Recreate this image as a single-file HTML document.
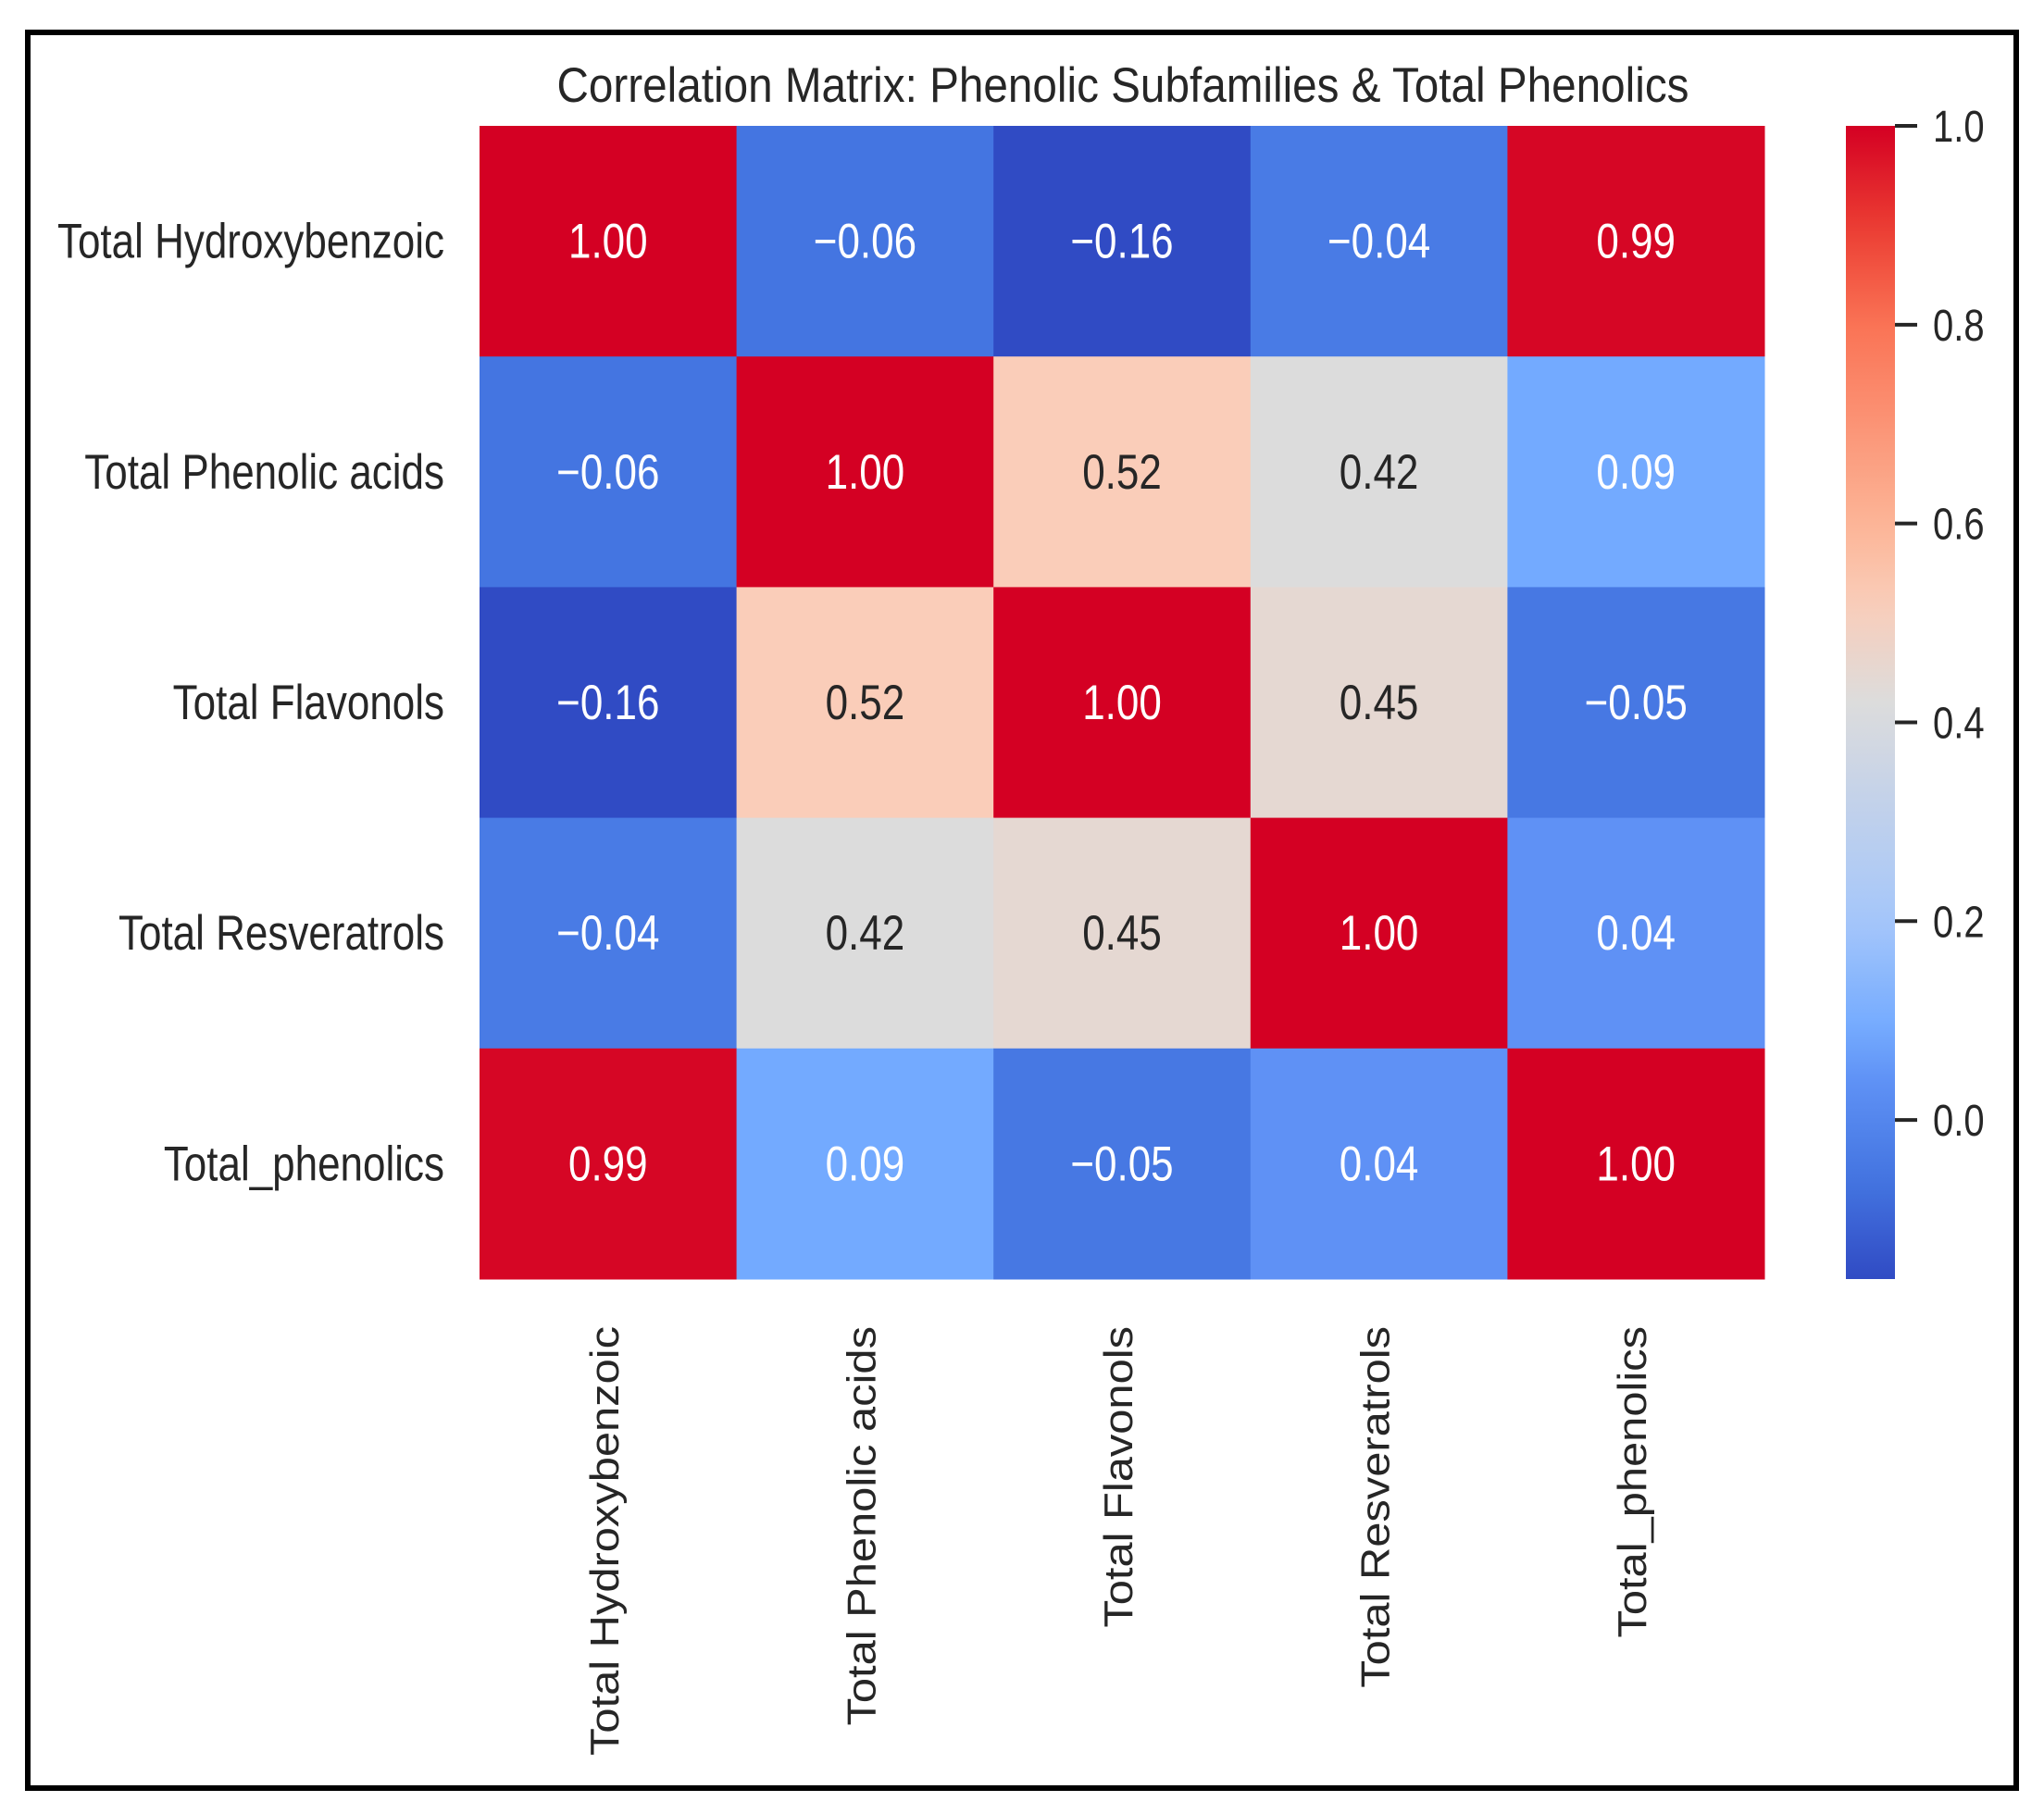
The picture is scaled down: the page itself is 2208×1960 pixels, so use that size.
<!DOCTYPE html>
<html><head><meta charset="utf-8"><title>Correlation Matrix</title>
<style>
html,body{margin:0;padding:0;background:#fff;}
svg{display:block;}
text{font-family:"Liberation Sans",Arial,sans-serif;}
</style></head>
<body>
<svg id="chart" width="2208" height="1960" viewBox="0 0 2208 1960" xmlns="http://www.w3.org/2000/svg">
  <defs>
    <linearGradient id="cbgrad" x1="0" y1="1" x2="0" y2="0"></linearGradient>
  </defs>
  <rect x="0" y="0" width="2208" height="1960" fill="#fff"/>
  <rect x="30" y="35" width="2148" height="1897" fill="none" stroke="#000" stroke-width="6"/>
  <text x="1213" y="110" text-anchor="middle" font-size="44" fill="#262626" textLength="1223" lengthAdjust="spacingAndGlyphs" transform="translate(0,-22) scale(1,1.2)">Correlation Matrix: Phenolic Subfamilies &amp; Total Phenolics</text>
  <g id="cells"></g>
  <g id="ylabels"></g>
  <g id="xlabels"></g>
  <g id="colorbar"></g>
</svg>
<script>
const categories = ["Total Hydroxybenzoic","Total Phenolic acids","Total Flavonols","Total Resveratrols","Total_phenolics"];
const row0 = [1.00, -0.06, -0.16, -0.04, 0.99];
const row1 = [-0.06, 1.00, 0.52, 0.42, 0.09];
const row2 = [-0.16, 0.52, 1.00, 0.45, -0.05];
const row3 = [-0.04, 0.42, 0.45, 1.00, 0.04];
const row4 = [0.99, 0.09, -0.05, 0.04, 1.00];
const matrix = [row0, row1, row2, row3, row4];
const cbTicks = [0.0, 0.2, 0.4, 0.6, 0.8, 1.0];
const cbTickLabels = ["0.0","0.2","0.4","0.6","0.8","1.0"];
const vmin = -0.16, vmax = 1.0;

const NS = "http://www.w3.org/2000/svg";
const HX0 = 518, HX1 = 1906, HY0 = 136, HY1 = 1382;
const cw = (HX1 - HX0) / categories.length, ch = (HY1 - HY0) / categories.length;
function xScale(i){ return HX0 + i * cw; }
function yScale(i){ return HY0 + i * ch; }
const CBX = 1994, CBW = 53;
function cbY(v){ return HY0 + (vmax - v) / (vmax - vmin) * (HY1 - HY0); }

const cmapV = [-0.16,-0.06,0.04,0.09,0.2,0.42,0.52,0.6,0.8,0.9,1.0];
const cmapC = [[48,75,196],[68,117,225],[95,145,245],[115,170,255],[165,198,250],[220,220,220],[250,205,185],[252,180,150],[250,115,85],[235,60,50],[212,0,35]];
function color(v){
  if (v <= cmapV[0]) return cmapC[0];
  for (let i=1;i<cmapV.length;i++){
    if (v <= cmapV[i]){
      const t=(v-cmapV[i-1])/(cmapV[i]-cmapV[i-1]);
      return cmapC[i-1].map((c,k)=>Math.round(c+(cmapC[i][k]-c)*t));
    }
  }
  return cmapC[cmapC.length-1];
}
function rgb(c){ return "rgb("+c.join(",")+")"; }
function lum(c){ const f=x=>{x/=255;return x<=0.03928?x/12.92:Math.pow((x+0.055)/1.055,2.4);}; return 0.2126*f(c[0])+0.7152*f(c[1])+0.0722*f(c[2]); }
function fmt(v){ const s=Math.abs(v).toFixed(2); return (v<0?"\u2212":"")+s; }

const cells = document.getElementById("cells");
matrix.forEach((row, r) => {
  row.forEach((v, c) => {
    const col = color(v);
    const rect = document.createElementNS(NS,"rect");
    rect.setAttribute("x", xScale(c)); rect.setAttribute("y", yScale(r));
    rect.setAttribute("width", cw + 0.5); rect.setAttribute("height", ch + 0.5);
    rect.setAttribute("fill", rgb(col));
    
    
    cells.appendChild(rect);
    const t = document.createElementNS(NS,"text");
    const cx = xScale(c) + cw/2, cy = yScale(r) + ch/2 + 18;
    t.setAttribute("text-anchor","middle");
    t.setAttribute("font-size","44");
    t.setAttribute("fill", lum(col) > 0.408 ? "#262626" : "#ffffff");
    t.setAttribute("transform","translate("+cx+","+cy+") scale(1,1.2)");
    t.textContent = fmt(v);
    
    
    cells.appendChild(t);
  });
});

const yl = document.getElementById("ylabels");
categories.forEach((name, i) => {
  const t = document.createElementNS(NS,"text");
  t.setAttribute("text-anchor","end");
  t.setAttribute("font-size","44");
  t.setAttribute("fill","#262626");
  t.setAttribute("transform","translate(480,"+(yScale(i)+ch/2+18)+") scale(1,1.2)");
  t.textContent = name;
  
  
  yl.appendChild(t);
});

const xl = document.getElementById("xlabels");
categories.forEach((name, i) => {
  const t = document.createElementNS(NS,"text");
  t.setAttribute("text-anchor","end");
  t.setAttribute("font-size","44");
  t.setAttribute("fill","#262626");
  t.setAttribute("transform","translate("+(xScale(i)+cw/2+11)+",1433) scale(1,1.11) rotate(-90)");
  t.textContent = name;
  
  
  xl.appendChild(t);
});

const grad = document.getElementById("cbgrad");
for (let k=0;k<=40;k++){
  const v = vmin + (vmax-vmin)*k/40;
  const s = document.createElementNS(NS,"stop");
  s.setAttribute("offset", (k/40).toFixed(4));
  s.setAttribute("stop-color", rgb(color(v)));
  grad.appendChild(s);
}
const cb = document.getElementById("colorbar");
const cbr = document.createElementNS(NS,"rect");
cbr.setAttribute("x",CBX); cbr.setAttribute("y",HY0);
cbr.setAttribute("width",CBW); cbr.setAttribute("height",HY1-HY0);
cbr.setAttribute("fill","url(#cbgrad)");


cb.appendChild(cbr);
cbTicks.forEach((v, i) => {
  const y = cbY(v);
  const ln = document.createElementNS(NS,"line");
  ln.setAttribute("x1",CBX+CBW); ln.setAttribute("x2",CBX+CBW+24);
  ln.setAttribute("y1",y); ln.setAttribute("y2",y);
  ln.setAttribute("stroke","#262626"); ln.setAttribute("stroke-width","4");
  
  
  cb.appendChild(ln);
  const t = document.createElementNS(NS,"text");
  t.setAttribute("font-size","40");
  t.setAttribute("fill","#262626");
  t.setAttribute("transform","translate(2088,"+(y+17)+") scale(1,1.2)");
  t.textContent = cbTickLabels[i];
  
  
  cb.appendChild(t);
});
</script>
</body></html>
